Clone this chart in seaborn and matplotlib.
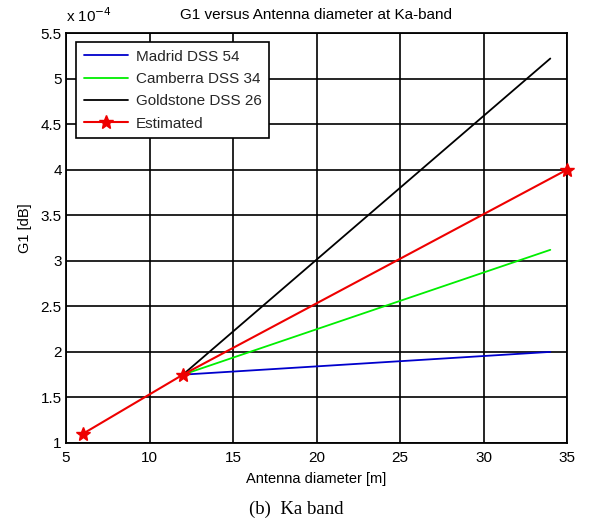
import matplotlib
matplotlib.use("Agg")
import matplotlib.pyplot as plt
import seaborn as sns
import pandas as pd
from matplotlib.ticker import FuncFormatter, MultipleLocator
from matplotlib.lines import Line2D

# Data (G1 in units of 1e-4 dB)
site_diam = [12, 34]
madrid = [1.75, 2.0]
camberra = [1.75, 3.12]
goldstone = [1.75, 5.22]
est_diam = [6, 12, 35]
estimated = [1.1, 1.75, 4.0]

series_names = ["Madrid DSS 54", "Camberra DSS 34", "Goldstone DSS 26"]
series_vals = [madrid, camberra, goldstone]
colors = ["#0000cc", "#00ee00", "#000000"]

sns.set_theme(style="white")
plt.rcParams["font.family"] = ["Liberation Sans", "DejaVu Sans"]

fig = plt.figure(figsize=(5.92, 5.25), dpi=100)
ax = fig.add_axes([66/592, 1-443/525, (567-66)/592, (443-33)/525])

rows = []
for name, vals in zip(series_names, series_vals):
    for d, v in zip(site_diam, vals):
        rows.append({"diam": d, "g1": v, "series": name})
df = pd.DataFrame(rows)

sns.lineplot(data=df, x="diam", y="g1", hue="series", hue_order=series_names,
             palette=colors, linewidth=1.3, ax=ax, legend=False, zorder=3)
df_est = pd.DataFrame({"diam": est_diam, "g1": estimated})
sns.lineplot(data=df_est, x="diam", y="g1", color="#ee0000", linewidth=1.5,
             marker="*", markersize=10, markeredgecolor="#ee0000",
             markeredgewidth=1.0, ax=ax, zorder=4, clip_on=False)

handles = [Line2D([], [], color=c, lw=1.3) for c in colors]
handles.append(Line2D([], [], color="#ee0000", lw=1.5, marker="*", markersize=10))
leg = ax.legend(handles, series_names + ["Estimated"], loc="upper left",
                bbox_to_anchor=(10/501, 1 - 9/410), borderaxespad=0,
                fontsize=11, frameon=True,
                fancybox=False, edgecolor="black", framealpha=1,
                borderpad=0.5, labelspacing=0.55, handlelength=2.9,
                handletextpad=0.5)
leg.get_frame().set_linewidth(1.2)

ax.set_xlim(5, 35)
ax.set_ylim(1, 5.5)
ax.xaxis.set_major_locator(MultipleLocator(5))
ax.yaxis.set_major_locator(MultipleLocator(0.5))
ax.yaxis.set_major_formatter(FuncFormatter(lambda v, p: f"{v:g}"))
ax.xaxis.set_major_formatter(FuncFormatter(lambda v, p: f"{v:g}"))
ax.grid(True, color="black", linewidth=1.2, linestyle="-")
ax.set_axisbelow(True)
for s in ax.spines.values():
    s.set_color("black")
    s.set_linewidth(1.3)
ax.tick_params(axis="x", labelsize=11, colors="black", length=0, pad=6)
ax.tick_params(axis="y", labelsize=11, colors="black", length=0, pad=3)

ax.set_xlabel("Antenna diameter [m]", fontsize=10.5, color="black", labelpad=5)
ax.set_ylabel("G1 [dB]", fontsize=10.5, color="black")
ax.yaxis.set_label_coords(-0.068, 0.524)
ax.set_title("G1 versus Antenna diameter at Ka-band", fontsize=11, color="black", pad=10)
ax.text(0.0, 1.02, r"x 10$^{-4}$", transform=ax.transAxes, fontsize=11,
        ha="left", va="bottom", color="black")

fig.text(0.5, 1-509/525, "(b)  Ka band", ha="center", va="center",
         fontsize=13.5, family=["Liberation Serif", "DejaVu Serif"], color="black")

fig.savefig("out.png", dpi=100)
